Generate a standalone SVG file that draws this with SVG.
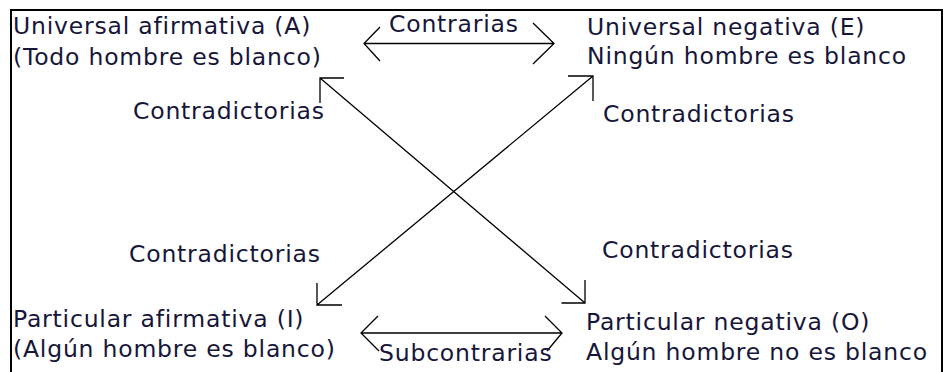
<svg xmlns="http://www.w3.org/2000/svg" width="949" height="372" viewBox="0 0 949 372">
<style>
text{font-family:"DejaVu Sans","Liberation Sans",sans-serif;font-size:23.5px;letter-spacing:0.8px;fill:#16163a}
.ln{stroke:#000;stroke-width:1.3;fill:none}
.frame{stroke:#000;stroke-width:2;fill:#fff}
</style>
<rect class="frame" x="11" y="10" width="931" height="380"/>
<g id="node-A">
<text x="13" y="34">Universal afirmativa (A)</text>
<text x="13" y="65">(Todo hombre es blanco)</text>
</g>
<g id="node-E">
<text x="587" y="35">Universal negativa (E)</text>
<text x="587" y="64">Ningún hombre es blanco</text>
</g>
<g id="node-I">
<text x="13" y="327">Particular afirmativa (I)</text>
<text x="13" y="357">(Algún hombre es blanco)</text>
</g>
<g id="node-O">
<text x="586" y="330">Particular negativa (O)</text>
<text x="586" y="360">Algún hombre no es blanco</text>
</g>
<g id="connectors">
<path class="ln" d="M364 43.5H554M380 27L364 43.5L380 61M533 23L554 43.5L533 64"/>
<path class="ln" d="M361 333H562M378 316L361 333L379 351M545 316L562 333L547 351"/>
<path class="ln" d="M320 78L585 303M344 78H320V103M561.5 303H585V280"/>
<path class="ln" d="M593 76L317 305M568 76H593V101M317 283V305H342"/>
<text x="389" y="32">Contrarias</text>
<text x="379" y="361">Subcontrarias</text>
<text x="133" y="119">Contradictorias</text>
<text x="603" y="122">Contradictorias</text>
<text x="129" y="262">Contradictorias</text>
<text x="602" y="258">Contradictorias</text>
</g>
</svg>
